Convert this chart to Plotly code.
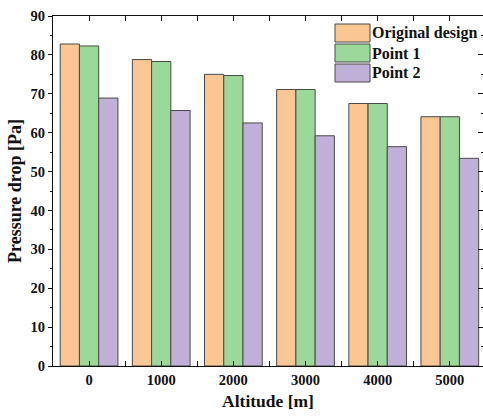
import plotly.graph_objects as go

altitudes = ["0", "1000", "2000", "3000", "4000", "5000"]
original_design = [82.8, 78.8, 75.0, 71.1, 67.5, 64.1]
point_1 = [82.3, 78.3, 74.7, 71.1, 67.5, 64.1]
point_2 = [68.9, 65.7, 62.5, 59.2, 56.4, 53.4]
series_names = ["Original design", "Point 1", "Point 2"]
colors = ["#F9C694", "#9DD89B", "#C0AFD7"]
y_ticks = [0, 10, 20, 30, 40, 50, 60, 70, 80, 90]

xpos = list(range(len(altitudes)))
FONT = "Liberation Serif"

fig = go.Figure()
for name, vals, col in zip(series_names, [original_design, point_1, point_2], colors):
    fig.add_trace(go.Bar(
        x=xpos, y=vals, name=name, showlegend=False,
        marker=dict(color=col, line=dict(color="#4a4a4a", width=1)),
    ))
# transparent helper trace so the right-hand (mirror) axis is drawn
fig.add_trace(go.Scatter(x=xpos, y=point_2, yaxis="y2", mode="markers",
                         marker=dict(opacity=0), showlegend=False, hoverinfo="skip"))

W, H = 483, 420
ML, MT, MB, MR = 53, 16, 54, 0
pw, ph = W - ML - MR, H - MT - MB
leg_x0, leg_x1 = 335, 370
leg_top = [24, 44, 64]
shapes = []
annotations = []
for name, col, t in zip(series_names, colors, leg_top):
    shapes.append(dict(
        type="rect", xref="paper", yref="paper",
        x0=(leg_x0 - ML) / pw, x1=(leg_x1 - ML) / pw,
        y0=1 - (t + 18 - MT) / ph, y1=1 - (t - MT) / ph,
        fillcolor=col, line=dict(color="#4a4a4a", width=1),
    ))
    annotations.append(dict(
        xref="paper", yref="paper", x=(leg_x1 + 3 - ML) / pw, y=1 - (t + 9 - MT) / ph,
        text="<b>%s</b>" % name, showarrow=False, xanchor="left", yanchor="middle",
        xshift=-2, borderpad=0,
        font=dict(family=FONT, size=16, color="#111"),
    ))

fig.update_layout(
    width=W, height=H,
    margin=dict(l=ML, r=MR, t=MT, b=MB, autoexpand=False),
    paper_bgcolor="white", plot_bgcolor="white",
    barmode="group", bargap=0.2, bargroupgap=0,
    font=dict(family=FONT, size=14, color="#111"),
    shapes=shapes, annotations=annotations,
    xaxis=dict(
        range=[-0.5, 5.46], tickvals=xpos, ticktext=["<b>%s</b>" % a for a in altitudes],
        showline=True, linecolor="#111", linewidth=1.2, mirror="allticks",
        ticks="inside", ticklen=5, tickcolor="#111", tickwidth=1.2,
        minor=dict(tick0=0.5, dtick=1, ticks="inside", ticklen=2, tickcolor="#111"),
        showgrid=False, zeroline=False, automargin=False,
        title=dict(text="<b>Altitude [m]</b>", font=dict(size=17.5), standoff=8),
        tickfont=dict(size=14.5),
    ),
    yaxis=dict(
        range=[0, 90], tickvals=y_ticks, ticktext=["<b>%d</b>" % v for v in y_ticks],
        showline=True, linecolor="#111", linewidth=1.2,
        ticks="outside", ticklen=4, tickcolor="#111", tickwidth=1.2,
        minor=dict(dtick=5, ticks="outside", ticklen=2, tickcolor="#111"),
        showgrid=False, zeroline=False, automargin=False,
        title=dict(text="<b>Pressure drop [Pa]</b>", font=dict(size=18), standoff=4),
        tickfont=dict(size=14.5),
    ),
    yaxis2=dict(
        range=[0, 90], overlaying="y", side="right", tickvals=y_ticks,
        showticklabels=False, showline=False, showgrid=False, zeroline=False,
        automargin=False,
        ticks="inside", ticklen=5, tickcolor="#111", tickwidth=1.2,
        minor=dict(dtick=5, ticks="inside", ticklen=2, tickcolor="#111"),
    ),
)

fig.write_html(
    "out.html",
    config={"displayModeBar": False},
    post_script="document.body.style.margin='0';document.body.style.overflow='hidden';",
)
